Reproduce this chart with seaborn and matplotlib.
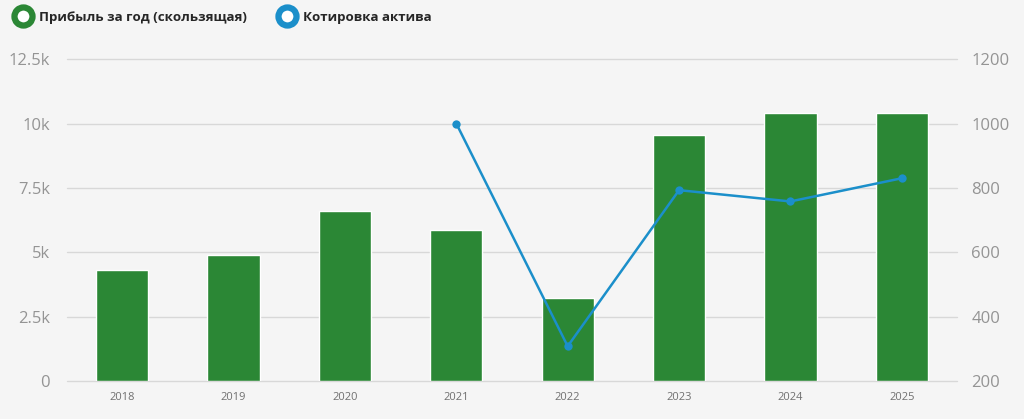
import numpy as np
import seaborn as sns
import matplotlib.pyplot as plt
from matplotlib.lines import Line2D
from matplotlib.ticker import FuncFormatter

years = ["2018", "2019", "2020", "2021", "2022", "2023", "2024", "2025"]
profit = [4300, 4890, 6620, 5880, 3220, 9570, 10410, 10410]
quote_years = ["2021", "2022", "2023", "2024", "2025"]
quotes = [1000, 308, 793, 758, 830]

left_ticks = [0, 2500, 5000, 7500, 10000, 12500]
right_ticks = [200, 400, 600, 800, 1000, 1200]

green = "#2b8735"
blue = "#1b8fca"
bg = "#f5f5f5"

sns.set_style("white")
plt.rcParams["font.family"] = ["Open Sans", "DejaVu Sans"]

fig = plt.figure(figsize=(10.24, 4.19), dpi=100, facecolor=bg)
ax = fig.add_axes([0.065, 0.0907, 0.870, 0.768])
ax.set_facecolor(bg)

sns.barplot(x=years, y=profit, color=green, width=0.47, saturation=1, ax=ax, zorder=2)
ax.set_ylim(0, 12500)
ax.set_xlim(-0.5, 7.5)
ax.set_yticks(left_ticks)
ax.yaxis.set_major_formatter(FuncFormatter(lambda v, p: "0" if v == 0 else f"{v/1000:g}k"))
ax.grid(axis="y", color="#d8d8d8", linewidth=1, zorder=0)
for gl in ax.get_ygridlines():
    gl.set_clip_on(False)
ax.set_axisbelow(True)
for s in ax.spines.values():
    s.set_visible(False)
ax.tick_params(axis="y", length=0, labelsize=12, labelcolor="#949494", pad=12)
ax.tick_params(axis="x", length=0, labelsize=8, labelcolor="#707070", pad=8)

ax2 = ax.twinx()
xpos = [years.index(y) for y in quote_years]
sns.lineplot(x=xpos, y=quotes, color=blue, linewidth=1.8, marker="o",
             markersize=6, markeredgewidth=0, ax=ax2)
ax2.set_ylim(200, 1200)
ax2.set_yticks(right_ticks)
for s in ax2.spines.values():
    s.set_visible(False)
ax2.tick_params(axis="y", length=0, labelsize=12, labelcolor="#949494", pad=10)
ax2.set_ylabel("")
ax.set_xlim(-0.5, 7.5)

handles = [
    Line2D([], [], linestyle="none", marker="o", markersize=13, markerfacecolor="white",
           markeredgecolor=green, markeredgewidth=4.5),
    Line2D([], [], linestyle="none", marker="o", markersize=13, markerfacecolor="white",
           markeredgecolor=blue, markeredgewidth=4.5),
]
labels = ["Прибыль за год (скользящая)", "Котировка актива"]
fig.legend(handles, labels, loc="upper left", bbox_to_anchor=(0.003, 1.003), ncol=2,
           frameon=False, prop={"weight": "bold", "size": 9.6}, handletextpad=0.6,
           columnspacing=2.4, handlelength=1.2)

fig.savefig("out.png", dpi=100, facecolor=bg)
